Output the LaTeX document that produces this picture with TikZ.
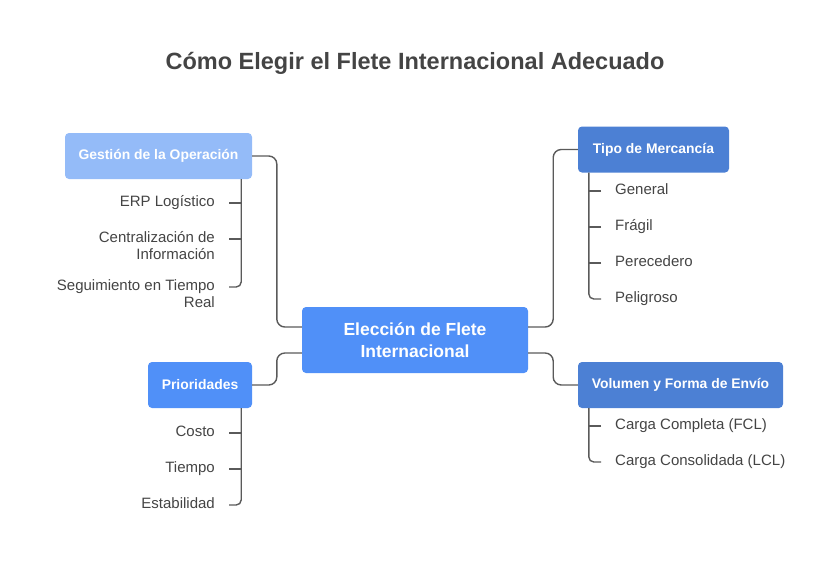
\documentclass[tikz,border=0pt]{standalone}
\usepackage{fontspec}
\setmainfont{Liberation Sans}
\usetikzlibrary{positioning, calc}

\definecolor{hubblue}{RGB}{80,144,248}
\definecolor{midblue}{RGB}{76,128,212}
\definecolor{paleblue}{RGB}{148,187,248}
\definecolor{inkgray}{RGB}{68,68,68}
\definecolor{wiregray}{RGB}{90,90,90}

\begin{document}
\begin{tikzpicture}[x=1pt, y=-1pt,
    topic/.style={rounded corners=4pt, text=white, inner sep=0pt,
      minimum height=46pt, align=center,
      font=\bfseries\fontsize{13.9}{16}\selectfont},
    leaf/.style={text=inkgray, inner sep=0pt, font=\fontsize{15}{17}\selectfont},
    link/.style={draw=wiregray, line width=1.4pt, rounded corners=8pt},
    twig/.style={draw=wiregray, line width=1.4pt, rounded corners=5pt}]

    \useasboundingbox (0,0) rectangle (830,573);

    % --- Title ---
    \node[text=inkgray, font=\bfseries\fontsize{23.5}{28}\selectfont] (title) at (415,63.5)
        {Cómo Elegir el Flete Internacional Adecuado};

    % --- Central topic ---
    \node[topic, fill=hubblue, minimum width=226pt, minimum height=66pt,
          font=\bfseries\fontsize{17.5}{22}\selectfont] (elec) at (415,340)
        {Elección de Flete\\Internacional};

    % --- Four branches ---
    \node[topic, fill=paleblue, minimum width=187pt] (gest) at (158.5,156) {Gestión de la Operación};
    \node[topic, fill=hubblue, minimum width=104pt] (prio) at (200,385) {Prioridades};
    \node[topic, fill=midblue, minimum width=151pt] (tipo) at (653.5,149.5) {Tipo de Mercancía};
    \node[topic, fill=midblue, minimum width=205pt] (vol) at (680.5,385) {Volumen y Forma de Envío};

    % center to branches
    \draw[link] ($(elec.west)+(0,-13)$) -- ++(-25,0) |- (gest.east);
    \draw[link] ($(elec.west)+(0,13)$) -- ++(-25,0) |- (prio.east);
    \draw[link] ($(elec.east)+(0,-13)$) -- ++(25,0) |- (tipo.west);
    \draw[link] ($(elec.east)+(0,13)$) -- ++(25,0) |- (vol.west);

    % --- Gestion de la Operacion leaves ---
    \node[leaf, anchor=base east] (erp) at (215,206) {ERP Logístico};
    \node[leaf, anchor=north east, align=right] (cent) at (215,230.1) {\strut Centralización de\\Información};
    \node[leaf, anchor=north east, align=right] (segu) at (215,278.1) {\strut Seguimiento en Tiempo\\Real};
    \draw[twig] ([xshift=-11pt]gest.south east) |- ($(segu.north east)+(14,8.9)$);
    \draw[twig] ($(erp.base east)+(14,-3)$) -- ++(12,0);
    \draw[twig] ($(cent.north east)+(14,8.9)$) -- ++(12,0);

    % --- Prioridades leaves ---
    \node[leaf, anchor=base east] (costo) at (215,436) {Costo};
    \node[leaf, anchor=base east] (tiempo) at (215,472) {Tiempo};
    \node[leaf, anchor=base east] (estab) at (215,508) {Estabilidad};
    \draw[twig] ([xshift=-11pt]prio.south east) |- ($(estab.base east)+(14,-3)$);
    \draw[twig] ($(costo.base east)+(14,-3)$) -- ++(12,0);
    \draw[twig] ($(tiempo.base east)+(14,-3)$) -- ++(12,0);

    % --- Tipo de Mercancia leaves ---
    \node[leaf, anchor=base west] (gen) at (615,194) {General};
    \node[leaf, anchor=base west] (frag) at (615,230) {Frágil};
    \node[leaf, anchor=base west] (pere) at (615,266) {Perecedero};
    \node[leaf, anchor=base west] (peli) at (615,302) {Peligroso};
    \draw[twig] ([xshift=11pt]tipo.south west) |- ($(peli.base west)+(-14,-3)$);
    \foreach \n in {gen, frag, pere}
        \draw[twig] ($(\n.base west)+(-14,-3)$) -- ++(-12,0);

    % --- Volumen y Forma de Envio leaves ---
    \node[leaf, anchor=base west] (fcl) at (615,429) {Carga Completa (FCL)};
    \node[leaf, anchor=base west] (lcl) at (615,465) {Carga Consolidada (LCL)};
    \draw[twig] ([xshift=11pt]vol.south west) |- ($(lcl.base west)+(-14,-3)$);
    \draw[twig] ($(fcl.base west)+(-14,-3)$) -- ++(-12,0);

\end{tikzpicture}
\end{document}
